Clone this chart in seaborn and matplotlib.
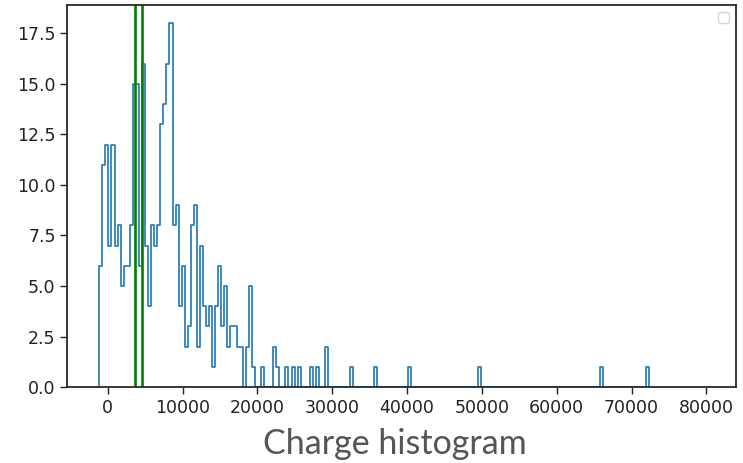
import numpy as np
import pandas as pd
import matplotlib
matplotlib.use("Agg")
import matplotlib.pyplot as plt
import seaborn as sns

# ---- data ----
bin_start = -1150.0
bin_width = 408.0
n_bins = 180

# (bin index, count) for non-empty bins
bin_index = [0, 1, 2, 3, 4, 5, 6, 7, 8, 9,
             10, 11, 12, 13, 14, 15, 16, 17, 18, 19,
             20, 21, 22, 23, 24, 25, 26, 27, 28, 29,
             30, 31, 32, 33, 34, 35, 36, 37, 38, 39,
             40, 41, 42, 43, 44, 45, 46, 48, 49, 50,
             53, 57, 58, 61, 63, 65, 69, 71, 74, 82,
             90, 101, 124, 164, 179]
counts = [6, 11, 12, 7, 12, 7, 8, 5, 6, 6,
          8, 15, 15, 6, 16, 7, 4, 8, 7, 8,
          13, 14, 16, 18, 8, 9, 4, 6, 2, 3,
          8, 9, 2, 7, 4, 3, 4, 1, 4, 6,
          3, 5, 2, 3, 3, 2, 2, 2, 5, 1,
          1, 2, 1, 1, 1, 1, 1, 1, 2, 1,
          1, 1, 1, 1, 1]
green_lines = [3690, 4585]
caption = "Charge histogram"
y_ticks = [0.0, 2.5, 5.0, 7.5, 10.0, 12.5, 15.0, 17.5]
x_ticks = [0, 10000, 20000, 30000, 40000, 50000, 60000, 70000, 80000]

# ---- build table ----
edges = [float(bin_start + bin_width * i) for i in range(-1, n_bins + 2)]  # one empty bin each side
centers = [bin_start + bin_width * (k + 0.5) for k in bin_index]
df = pd.DataFrame({"charge": centers, "n": counts})

sns.set_style("white")
fig = plt.figure(figsize=(7.43, 4.63), dpi=100)
ax = fig.add_axes([0.0908, 0.1641, 0.9906 - 0.0908, 0.989 - 0.1641])

sns.histplot(data=df, x="charge", weights="n", bins=edges, element="step",
             fill=False, color="#1f77b4", linewidth=1.2, ax=ax)
for g in green_lines:
    ax.axvline(g, color="green", linewidth=1.9)

ax.set_xlim(-5400, 83970)
ax.set_ylim(0, 18.9)
ax.set_xticks(x_ticks)
ax.set_xticklabels([str(t) for t in x_ticks])
ax.set_yticks(y_ticks)
ax.set_yticklabels([f"{t:.1f}" for t in y_ticks])
ax.set_xlabel("")
ax.set_ylabel("")
ax.tick_params(axis="both", labelsize=12.5, length=5, width=1, color="#222222",
               labelcolor="#222222", direction="out", bottom=True, left=True)
for s in ax.spines.values():
    s.set_color("#2a2a2a")
    s.set_linewidth(1.3)
    s.set_zorder(3)

ax.legend(handles=[], loc="upper right")

fig.text(0.532, 0.019, caption, ha="center", va="baseline",
         fontsize=24.5, color="#555555", family=["Lato", "DejaVu Sans"])

fig.savefig("out.png", dpi=100)
